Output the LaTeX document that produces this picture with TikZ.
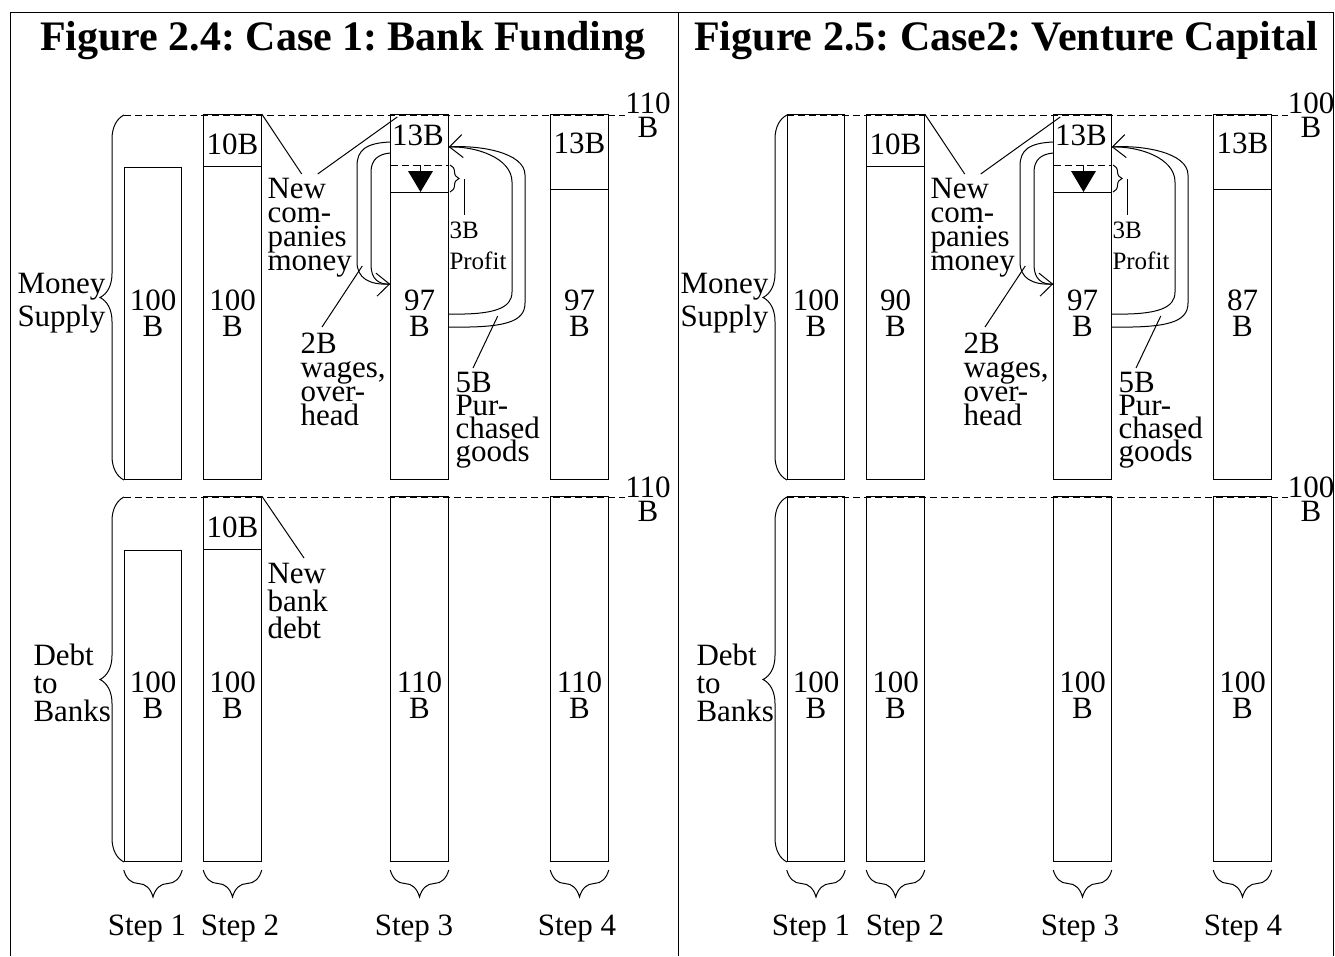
\documentclass[tikz,border=0pt]{standalone}
\usepackage{fontspec}
\setmainfont{Liberation Serif}
\usetikzlibrary{arrows.meta, decorations.pathreplacing}
\frenchspacing
\tikzset{
  barbox/.style={draw, minimum width=57.5pt, inner sep=0pt, anchor=south},
  topbox/.style={draw, minimum width=57.5pt, inner sep=0pt, anchor=north},
  valtxt/.style={font=\fontsize{31}{26}\selectfont, align=center, inner sep=0pt},
  totlbl/.style={font=\fontsize{31}{24}\selectfont, align=center, inner sep=0pt, anchor=north},
  notetxt/.style={font=\fontsize{31}{24}\selectfont, align=left, inner sep=0pt, anchor=north west},
  smalltxt/.style={font=\fontsize{25}{31}\selectfont, align=left, inner sep=0pt, anchor=north west},
  titletxt/.style={font=\bfseries\fontsize{42}{42}\selectfont, inner sep=0pt, anchor=base},
  steptxt/.style={font=\fontsize{31}{31}\selectfont, inner sep=0pt, anchor=base},
  refline/.style={dash pattern=on 7pt off 4pt},
  bracedec/.style={decorate, decoration={brace, amplitude=#1}},
  flow/.style={-{Straight Barb[length=13pt,width=23pt]}},
}

\begin{document}
\begin{tikzpicture}[x=1pt, y=-1pt, line width=1pt]
  \useasboundingbox (0,0) rectangle (1335,956);
  \fill[white] (0,0) rectangle (1335,956);
  \draw (10,956) -- (10,12) -- (1333,12) -- (1333,956);
  \draw (678,12) -- (678,956);
  \node[titletxt] (ttla) at (343,50) {Figure 2.4: Case 1: Bank Funding};
  \node[titletxt] (ttlb) at (1006,50) {Figure 2.5: Case2: Venture Capital};

  % Case 1
  \node[barbox, minimum height=312pt] (m1a) at (153,480) {};
  \node[barbox, minimum height=365pt] (m2a) at (232.5,480) {};
  \node[barbox, minimum height=365pt] (m3a) at (419.5,480) {};
  \node[barbox, minimum height=365pt] (m4a) at (579.5,480) {};
  \node[topbox, minimum height=51.5pt] (n2a) at (m2a.north) {};
  \node[topbox, minimum height=74.5pt] (n4a) at (m4a.north) {};
  \draw[refline] (124,115) -- (625,115);
  \node[totlbl] (tma) at (648,92) {110\\B};
  \node[valtxt, anchor=base] (t2a) at (232.5,154) {10B};
  \node[valtxt, anchor=base] (t3a) at (418,145) {13B};
  \node[valtxt, anchor=base] (t4a) at (579.5,153) {13B};
  \node[valtxt, anchor=north] (v1a) at (153,289) {100\\B};
  \node[valtxt, anchor=north] (v2a) at (232.5,289) {100\\B};
  \node[valtxt, anchor=north] (v3a) at (419.5,289) {97\\B};
  \node[valtxt, anchor=north] (v4a) at (579.5,289) {97\\B};
  \draw[refline] (390.75,165) -- (448.25,165);
  \draw (390.75,192.5) -- (448.25,192.5);
  \draw (420.5,165) -- (420.5,172);
  \fill (408,171) -- (433,171) -- (420.5,192) -- cycle;
  \draw[bracedec=9pt] (450,165) -- (450,192);
  \draw[flow] ([yshift=-28pt]m3a.north west) .. controls (366,143) and (357,150) .. (357,166) -- (357,262) .. controls (357,278) and (369,285) .. ([yshift=-170pt]m3a.north west);
  \draw ([yshift=-39pt]m3a.north west) .. controls (378,154) and (371,160) .. (371,172) -- (371,265) .. controls (371,279) and (379,285) .. ([yshift=-170pt]m3a.north west);
  \draw[flow] ([yshift=-213pt]m3a.north east) .. controls (505,328) and (525,322) .. (525,303) -- (525,175) .. controls (525,152) and (478,145) .. ([yshift=-33pt]m3a.north east);
  \draw ([yshift=-200pt]m3a.north east) .. controls (495,315) and (512,308) .. (512,292) -- (512,182) .. controls (512,158) and (476,146) .. ([yshift=-33pt]m3a.north east);
  \node[notetxt] (nca) at (267,178) {New\\com-\\panies\\money};
  \draw (n2a.north east) -- ([xshift=-8pt,yshift=4pt]nca.north);
  \draw ([xshift=8pt,yshift=4pt]nca.north) -- ([xshift=7pt,yshift=-3pt]m3a.north west);
  \node[notetxt] (wga) at (300,332) {2B\\wages,\\over-\\head};
  \draw ([xshift=-28pt,yshift=-152pt]m3a.north west) -- ([xshift=22pt,yshift=5pt]wga.north west);
  \node[smalltxt] (pfa) at (449,221) {3B\\Profit};
  \draw (464,179) -- ([xshift=15pt,yshift=6pt]pfa.north west);
  \node[notetxt, font=\fontsize{31}{23}\selectfont] (gda) at (455,372) {5B\\Pur-\\chased\\goods};
  \draw ([xshift=49pt,yshift=-202pt]m3a.north east) -- ([xshift=18pt,yshift=4pt]gda.north west);

  \node[barbox, minimum height=311pt] (d1a) at (153,862) {};
  \node[barbox, minimum height=365pt] (d2a) at (232.5,862) {};
  \node[barbox, minimum height=365pt] (d3a) at (419.5,862) {};
  \node[barbox, minimum height=365pt] (d4a) at (579.5,862) {};
  \node[topbox, minimum height=53pt] (l2a) at (d2a.north) {};
  \draw[refline] (124,497) -- (625,497);
  \node[totlbl] (tda) at (648,476) {110\\B};
  \node[valtxt, anchor=base] (u2a) at (232.5,537) {10B};
  \node[valtxt, anchor=north] (w1a) at (153,671) {100\\B};
  \node[valtxt, anchor=north] (w2a) at (232.5,671) {100\\B};
  \node[valtxt, anchor=north] (w3a) at (419.5,671) {110\\B};
  \node[valtxt, anchor=north] (w4a) at (579.5,671) {110\\B};
  \node[notetxt, font=\fontsize{31}{27.5}\selectfont] (nba) at (267,563) {New\\bank\\debt};
  \draw (l2a.north east) -- ([xshift=37pt,yshift=5pt]nba.north west);

  \draw[bracedec=24pt] (124,480) -- (124,115);
  \draw[bracedec=24pt] (124,862) -- (124,497);
  \node[valtxt, font=\fontsize{31}{33}\selectfont, anchor=north west] (msa) at (17,273) {Money\\Supply};
  \node[notetxt, font=\fontsize{31}{28}\selectfont] (dba) at (33,643) {Debt\\to\\Banks};
  \draw[bracedec=27pt] ([yshift=-8pt]d1a.south east) -- ([yshift=-8pt]d1a.south west);
  \draw[bracedec=27pt] ([yshift=-8pt]d2a.south east) -- ([yshift=-8pt]d2a.south west);
  \draw[bracedec=27pt] ([yshift=-8pt]d3a.south east) -- ([yshift=-8pt]d3a.south west);
  \draw[bracedec=27pt] ([yshift=-8pt]d4a.south east) -- ([yshift=-8pt]d4a.south west);
  \node[steptxt] (s1a) at (147,935) {Step 1};
  \node[steptxt] (s2a) at (240,935) {Step 2};
  \node[steptxt] (s3a) at (414,935) {Step 3};
  \node[steptxt] (s4a) at (577,935) {Step 4};

  % Case 2
  \begin{scope}[xshift=663pt]
  \node[barbox, minimum height=365pt] (m1b) at (153,480) {};
  \node[barbox, minimum height=365pt] (m2b) at (232.5,480) {};
  \node[barbox, minimum height=365pt] (m3b) at (419.5,480) {};
  \node[barbox, minimum height=365pt] (m4b) at (579.5,480) {};
  \node[topbox, minimum height=51.5pt] (n2b) at (m2b.north) {};
  \node[topbox, minimum height=74.5pt] (n4b) at (m4b.north) {};
  \draw[refline] (124,115) -- (625,115);
  \node[totlbl] (tmb) at (648,92) {100\\B};
  \node[valtxt, anchor=base] (t2b) at (232.5,154) {10B};
  \node[valtxt, anchor=base] (t3b) at (418,145) {13B};
  \node[valtxt, anchor=base] (t4b) at (579.5,153) {13B};
  \node[valtxt, anchor=north] (v1b) at (153,289) {100\\B};
  \node[valtxt, anchor=north] (v2b) at (232.5,289) {90\\B};
  \node[valtxt, anchor=north] (v3b) at (419.5,289) {97\\B};
  \node[valtxt, anchor=north] (v4b) at (579.5,289) {87\\B};
  \draw[refline] (390.75,165) -- (448.25,165);
  \draw (390.75,192.5) -- (448.25,192.5);
  \draw (420.5,165) -- (420.5,172);
  \fill (408,171) -- (433,171) -- (420.5,192) -- cycle;
  \draw[bracedec=9pt] (450,165) -- (450,192);
  \draw[flow] ([yshift=-28pt]m3b.north west) .. controls (366,143) and (357,150) .. (357,166) -- (357,262) .. controls (357,278) and (369,285) .. ([yshift=-170pt]m3b.north west);
  \draw ([yshift=-39pt]m3b.north west) .. controls (378,154) and (371,160) .. (371,172) -- (371,265) .. controls (371,279) and (379,285) .. ([yshift=-170pt]m3b.north west);
  \draw[flow] ([yshift=-213pt]m3b.north east) .. controls (505,328) and (525,322) .. (525,303) -- (525,175) .. controls (525,152) and (478,145) .. ([yshift=-33pt]m3b.north east);
  \draw ([yshift=-200pt]m3b.north east) .. controls (495,315) and (512,308) .. (512,292) -- (512,182) .. controls (512,158) and (476,146) .. ([yshift=-33pt]m3b.north east);
  \node[notetxt] (ncb) at (267,178) {New\\com-\\panies\\money};
  \draw (n2b.north east) -- ([xshift=-8pt,yshift=4pt]ncb.north);
  \draw ([xshift=8pt,yshift=4pt]ncb.north) -- ([xshift=7pt,yshift=-3pt]m3b.north west);
  \node[notetxt] (wgb) at (300,332) {2B\\wages,\\over-\\head};
  \draw ([xshift=-28pt,yshift=-152pt]m3b.north west) -- ([xshift=22pt,yshift=5pt]wgb.north west);
  \node[smalltxt] (pfb) at (449,221) {3B\\Profit};
  \draw (464,179) -- ([xshift=15pt,yshift=6pt]pfb.north west);
  \node[notetxt, font=\fontsize{31}{23}\selectfont] (gdb) at (455,372) {5B\\Pur-\\chased\\goods};
  \draw ([xshift=49pt,yshift=-202pt]m3b.north east) -- ([xshift=18pt,yshift=4pt]gdb.north west);

  \node[barbox, minimum height=365pt] (d1b) at (153,862) {};
  \node[barbox, minimum height=365pt] (d2b) at (232.5,862) {};
  \node[barbox, minimum height=365pt] (d3b) at (419.5,862) {};
  \node[barbox, minimum height=365pt] (d4b) at (579.5,862) {};
  \draw[refline] (124,497) -- (625,497);
  \node[totlbl] (tdb) at (648,476) {100\\B};
  \node[valtxt, anchor=north] (w1b) at (153,671) {100\\B};
  \node[valtxt, anchor=north] (w2b) at (232.5,671) {100\\B};
  \node[valtxt, anchor=north] (w3b) at (419.5,671) {100\\B};
  \node[valtxt, anchor=north] (w4b) at (579.5,671) {100\\B};

  \draw[bracedec=24pt] (124,480) -- (124,115);
  \draw[bracedec=24pt] (124,862) -- (124,497);
  \node[valtxt, font=\fontsize{31}{33}\selectfont, anchor=north west] (msb) at (17,273) {Money\\Supply};
  \node[notetxt, font=\fontsize{31}{28}\selectfont] (dbb) at (33,643) {Debt\\to\\Banks};
  \draw[bracedec=27pt] ([yshift=-8pt]d1b.south east) -- ([yshift=-8pt]d1b.south west);
  \draw[bracedec=27pt] ([yshift=-8pt]d2b.south east) -- ([yshift=-8pt]d2b.south west);
  \draw[bracedec=27pt] ([yshift=-8pt]d3b.south east) -- ([yshift=-8pt]d3b.south west);
  \draw[bracedec=27pt] ([yshift=-8pt]d4b.south east) -- ([yshift=-8pt]d4b.south west);
  \node[steptxt] (s1b) at (148,935) {Step 1};
  \node[steptxt] (s2b) at (242,935) {Step 2};
  \node[steptxt] (s3b) at (417,935) {Step 3};
  \node[steptxt] (s4b) at (580,935) {Step 4};
  \end{scope}
\end{tikzpicture}
\end{document}
